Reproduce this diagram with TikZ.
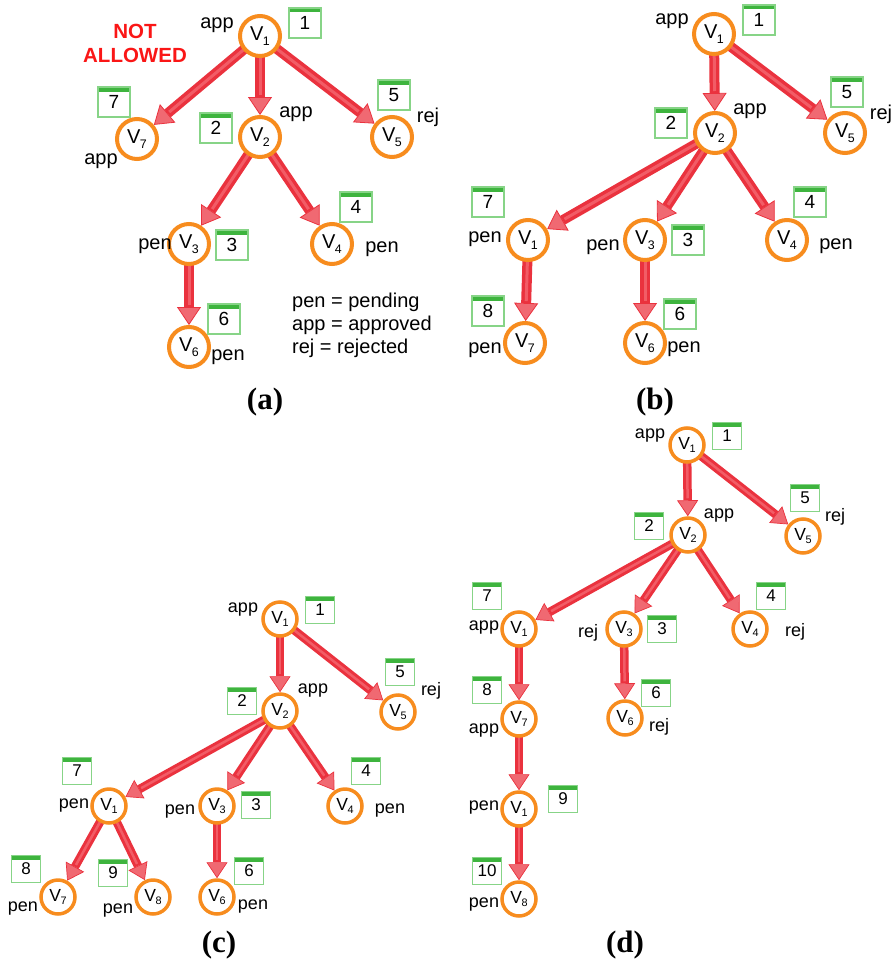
\documentclass[tikz,border=0pt]{standalone}
\usepackage{fontspec}
\usepackage{graphicx}
\setmainfont{Liberation Sans}
\newfontfamily\capfont{Liberation Serif}
\usetikzlibrary{arrows.meta}

\definecolor{vorange}{RGB}{247,140,30}
\definecolor{arrowred}{RGB}{234,50,62}
\definecolor{headred}{RGB}{240,105,114}
\definecolor{hired}{RGB}{242,92,102}
\definecolor{tagline}{RGB}{135,212,135}
\definecolor{tagbar}{RGB}{62,180,62}
\definecolor{warnred}{RGB}{250,22,22}

% vertex label: V with a small lowered index
\newcommand\vsub[1]{V\kern-0.5pt\raisebox{-0.22em}{\scalebox{0.62}{#1}}}

\pgfdeclarelayer{edges}
\pgfsetlayers{edges,main}

\begin{document}
\begin{tikzpicture}[x=1pt,y=-1pt,
  vert/.style={circle, draw=vorange, line width=4pt, fill=white, minimum size=40pt,
    inner sep=0pt, font=\fontsize{20}{24}\selectfont},
  vertS/.style={vert, line width=3.5pt, minimum size=34pt, font=\fontsize{17.5}{21}\selectfont},
  tag/.style={draw=tagline, line width=1.2pt, fill=white, minimum width=32pt, minimum height=30pt,
    inner sep=0pt, font=\fontsize{19}{22}\selectfont,
    path picture={\fill[tagbar] (path picture bounding box.north west) rectangle
      ([yshift=-4.5pt]path picture bounding box.north east);}},
  tagS/.style={tag, minimum width=29pt, minimum height=27pt, font=\fontsize{17}{20}\selectfont},
  lbl/.style={inner sep=0pt, anchor=mid, font=\fontsize{20}{24}\selectfont},
  lblS/.style={lbl, font=\fontsize{18}{21}\selectfont},
  legend/.style={inner sep=0pt, anchor=mid west, font=\fontsize{20}{24}\selectfont},
  caption/.style={inner sep=0pt, font=\capfont\bfseries\fontsize{31}{36}\selectfont},
  arr/.style={draw=arrowred, line width=10pt, shorten <=-6pt,
    -{Triangle[length=18pt,width=24pt,fill=headred,line width=0.8pt]}},
  arrS/.style={arr, line width=8.5pt, -{Triangle[length=16pt,width=21pt,fill=headred,line width=0.7pt]}},
  shine/.style={draw=hired, line width=3pt, shorten <=-6pt, shorten >=20pt},
  shineS/.style={shine, line width=2.5pt, shorten >=18pt},
]
\useasboundingbox (0,0) rectangle (896,966);

% ---------------- (a) ----------------
\node[vert] (a1) at (260,36) {\vsub1};
\node[vert] (a7) at (137,139) {\vsub7};
\node[vert] (a2) at (260,137) {\vsub2};
\node[vert] (a5) at (392,137) {\vsub5};
\node[vert] (a3) at (189,244) {\vsub3};
\node[vert] (a4) at (332,244) {\vsub4};
\node[vert] (a6) at (189,347) {\vsub6};

\node[tag] (at1) at (305,23) {1};
\node[tag] (at7) at (114,102) {7};
\node[tag] (at2) at (216,128) {2};
\node[tag] (at5) at (394,95) {5};
\node[tag] (at3) at (232,245) {3};
\node[tag] (at4) at (356,207) {4};
\node[tag] (at6) at (224,319) {6};

\node[lbl] (al1) at (217,26) {app};
\node[lbl] (al7) at (101,162) {app};
\node[lbl] (al2) at (296,115) {app};
\node[lbl] (al5) at (428,120) {rej};
\node[lbl] (al3) at (155,247) {pen};
\node[lbl] (al4) at (382,250) {pen};
\node[lbl] (al6) at (228,358) {pen};

\node[inner sep=0pt, align=center, text=warnred, font=\bfseries\fontsize{20.5}{24}\selectfont]
  (warn) at (135,43) {NOT\\ALLOWED};

\node[legend] (leg1) at (292,305) {pen = pending};
\node[legend] (leg2) at (292,328) {app = approved};
\node[legend] (leg3) at (292,351) {rej = rejected};

\begin{pgfonlayer}{edges}
  \foreach \s/\t in {a1/a7, a1/a2, a1/a5, a2/a3, a2/a4, a3/a6} {
    \draw[arr] (\s) -- (\t);
    \draw[shine] (\s) -- (\t);
  }
\end{pgfonlayer}

\node[caption] (capa) at (265,402) {(a)};

% ---------------- (b) ----------------
\node[vert] (b1) at (714,34) {\vsub1};
\node[vert] (b2) at (715,133) {\vsub2};
\node[vert] (b5) at (845,133) {\vsub5};
\node[vert] (b1p) at (528,240) {\vsub1};
\node[vert] (b3) at (645,240) {\vsub3};
\node[vert] (b4) at (787,240) {\vsub4};
\node[vert] (b7) at (525,343) {\vsub7};
\node[vert] (b6) at (645,343) {\vsub6};

\node[tag] (bt1) at (759,20) {1};
\node[tag] (bt2) at (671,123) {2};
\node[tag] (bt5) at (847,92) {5};
\node[tag] (bt7) at (488,202) {7};
\node[tag] (bt3) at (688,240) {3};
\node[tag] (bt4) at (810,202) {4};
\node[tag] (bt8) at (488,311) {8};
\node[tag] (bt6) at (680,314) {6};

\node[lbl] (bl1) at (672,22) {app};
\node[lbl] (bl2) at (750,112) {app};
\node[lbl] (bl5) at (881,117) {rej};
\node[lbl] (bl1p) at (485,240) {pen};
\node[lbl] (bl3) at (603,248) {pen};
\node[lbl] (bl4) at (836,247) {pen};
\node[lbl] (bl7) at (485,351) {pen};
\node[lbl] (bl6) at (684,350) {pen};

\begin{pgfonlayer}{edges}
  \foreach \s/\t in {b1/b2, b1/b5, b2/b1p, b2/b3, b2/b4, b1p/b7, b3/b6} {
    \draw[arr] (\s) -- (\t);
    \draw[shine] (\s) -- (\t);
  }
\end{pgfonlayer}

\node[caption] (capb) at (655,402) {(b)};

% ---------------- (c) ----------------
\node[vertS] (c1) at (280,619) {\vsub1};
\node[vertS] (c2) at (280,711) {\vsub2};
\node[vertS] (c5) at (398,712) {\vsub5};
\node[vertS] (c1p) at (109,806) {\vsub1};
\node[vertS] (c3) at (217,806) {\vsub3};
\node[vertS] (c4) at (345,806) {\vsub4};
\node[vertS] (c7) at (58,897) {\vsub7};
\node[vertS] (c8) at (153,897) {\vsub8};
\node[vertS] (c6) at (217,897) {\vsub6};

\node[tagS] (ct1) at (320,610) {1};
\node[tagS] (ct2) at (242,701) {2};
\node[tagS] (ct5) at (400,672) {5};
\node[tagS] (ct7) at (77,771) {7};
\node[tagS] (ct3) at (256,805) {3};
\node[tagS] (ct4) at (366,771) {4};
\node[tagS] (ct8) at (26,869) {8};
\node[tagS] (ct9) at (113,873) {9};
\node[tagS] (ct6) at (249,871) {6};

\node[lblS] (cl1) at (243,610) {app};
\node[lblS] (cl2) at (313,691) {app};
\node[lblS] (cl5) at (431,693) {rej};
\node[lblS] (cl1p) at (74,806) {pen};
\node[lblS] (cl3) at (180,812) {pen};
\node[lblS] (cl4) at (390,811) {pen};
\node[lblS] (cl7) at (23,909) {pen};
\node[lblS] (cl8) at (118,911) {pen};
\node[lblS] (cl6) at (253,907) {pen};

\begin{pgfonlayer}{edges}
  \foreach \s/\t in {c1/c2, c1/c5, c2/c1p, c2/c3, c2/c4, c1p/c7, c1p/c8, c3/c6} {
    \draw[arrS] (\s) -- (\t);
    \draw[shineS] (\s) -- (\t);
  }
\end{pgfonlayer}

\node[caption] (capc) at (219,945) {(c)};

% ---------------- (d) ----------------
\node[vertS] (d1) at (687,445) {\vsub1};
\node[vertS] (d2) at (688,535) {\vsub2};
\node[vertS] (d5) at (803,536) {\vsub5};
\node[vertS] (d1p) at (519,629) {\vsub1};
\node[vertS] (d3) at (624,629) {\vsub3};
\node[vertS] (d4) at (750,629) {\vsub4};
\node[vertS] (d7) at (519,719) {\vsub7};
\node[vertS] (d6) at (625,718) {\vsub6};
\node[vertS] (d1pp) at (519,809) {\vsub1};
\node[vertS] (d8) at (519,899) {\vsub8};

\node[tagS] (dt1) at (727,436) {1};
\node[tagS] (dt2) at (649,526) {2};
\node[tagS] (dt5) at (805,498) {5};
\node[tagS] (dt7) at (487,596) {7};
\node[tagS] (dt3) at (662,629) {3};
\node[tagS] (dt4) at (771,596) {4};
\node[tagS] (dt8) at (487,690) {8};
\node[tagS] (dt6) at (656,693) {6};
\node[tagS] (dt9) at (563,799) {9};
\node[tagS] (dt10) at (487,871) {10};

\node[lblS] (dl1) at (650,436) {app};
\node[lblS] (dl2) at (719,516) {app};
\node[lblS] (dl5) at (835,519) {rej};
\node[lblS] (dl1p) at (484,628) {app};
\node[lblS] (dl3) at (588,635) {rej};
\node[lblS] (dl4) at (795,634) {rej};
\node[lblS] (dl7) at (484,731) {app};
\node[lblS] (dl6) at (659,729) {rej};
\node[lblS] (dl1pp) at (484,808) {pen};
\node[lblS] (dl8) at (484,905) {pen};

\begin{pgfonlayer}{edges}
  \foreach \s/\t in {d1/d2, d1/d5, d2/d1p, d2/d3, d2/d4, d1p/d7, d7/d1pp, d1pp/d8, d3/d6} {
    \draw[arrS] (\s) -- (\t);
    \draw[shineS] (\s) -- (\t);
  }
\end{pgfonlayer}

\node[caption] (capd) at (625,945) {(d)};
\end{tikzpicture}
\end{document}
